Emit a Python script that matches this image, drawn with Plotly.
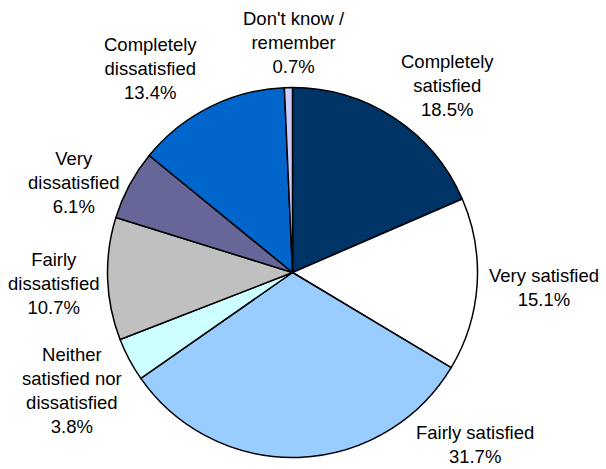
import plotly.graph_objects as go

# ---- data ----
categories = [
    "Completely<br>satisfied",
    "Very satisfied",
    "Fairly satisfied",
    "Neither<br>satisfied nor<br>dissatisfied",
    "Fairly<br>dissatisfied",
    "Very<br>dissatisfied",
    "Completely<br>dissatisfied",
    "Don't know /<br>remember",
]
values = [18.5, 15.1, 31.7, 3.8, 10.7, 6.1, 13.4, 0.7]

# ---- styles / layout ----
colors = ["#003366", "#FFFFFF", "#99CCFF", "#CCFFFF",
          "#C0C0C0", "#666699", "#0066CC", "#CCCCFF"]
W, H = 606, 469
# label centres in pixels (layout only)
label_px = [(447, 86), (544, 287), (475, 444), (72, 390),
            (54, 283), (74, 182), (150, 68), (294, 43)]
cx, cy, r = 292.5, 272.5, 185

fig = go.Figure()
fig.add_trace(go.Pie(
    labels=categories,
    values=values,
    sort=False,
    direction="clockwise",
    rotation=0,
    textinfo="none",
    hoverinfo="label+percent",
    marker=dict(colors=colors, line=dict(color="#000000", width=1.5)),
    domain=dict(x=[(cx - r) / W, (cx + r) / W],
                y=[1 - (cy + r) / H, 1 - (cy - r) / H]),
    showlegend=False,
))

total = sum(values)
for cat, v, (px, py) in zip(categories, values, label_px):
    fig.add_annotation(
        x=px / W, y=1 - py / H, xref="paper", yref="paper",
        text=f"{cat}<br>{v / total * 100:.1f}%",
        showarrow=False, xanchor="center", yanchor="middle",
        align="center",
        font=dict(family="Liberation Sans, Arial, sans-serif", size=18.5, color="#000000"),
    )

fig.update_layout(
    width=W, height=H,
    margin=dict(l=0, r=0, t=0, b=0),
    paper_bgcolor="#FFFFFF",
    plot_bgcolor="#FFFFFF",
)

fig.write_html("out.html")
